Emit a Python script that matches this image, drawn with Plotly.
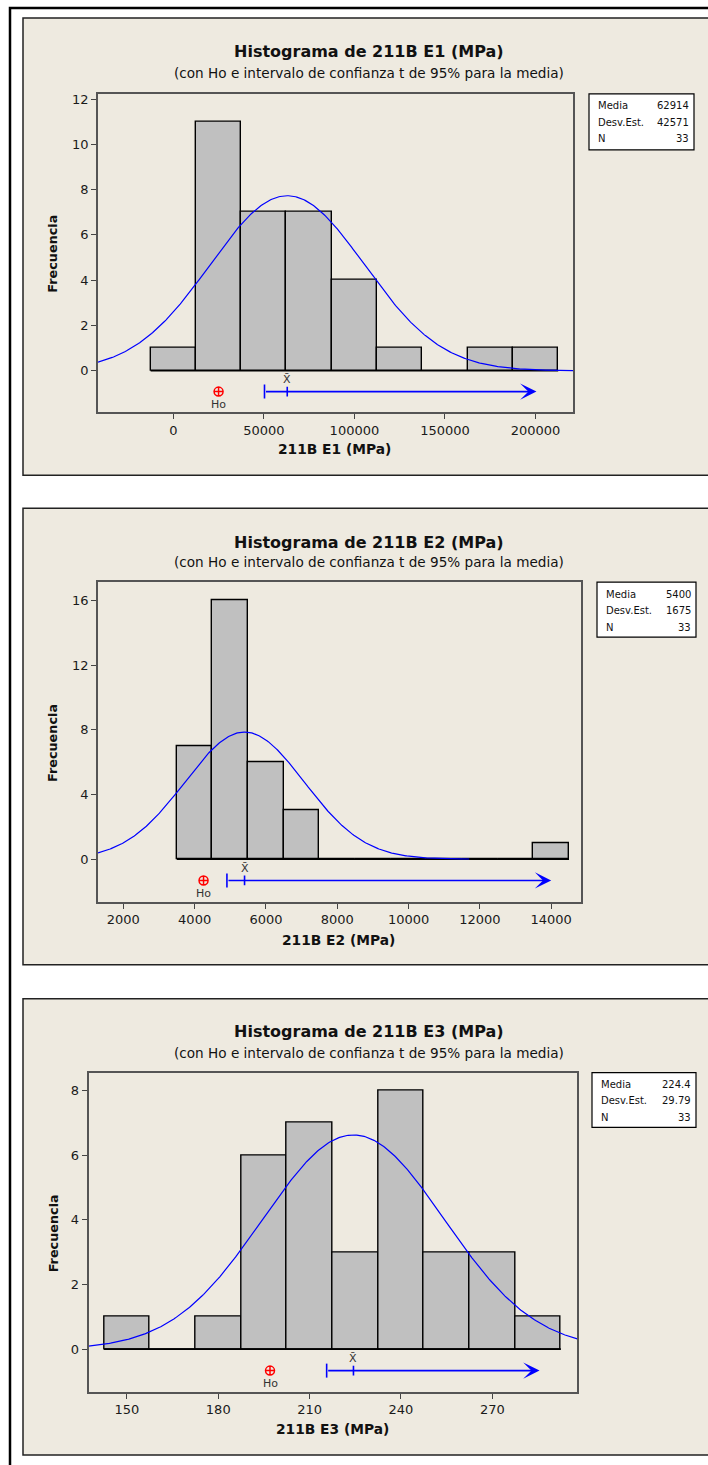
import numpy as np
import plotly.graph_objects as go

W, H = 708, 1465

# ---------------- data ----------------
titles = ["Histograma de 211B E1 (MPa)", "Histograma de 211B E2 (MPa)", "Histograma de 211B E3 (MPa)"]
subtitle = "(con Ho e intervalo de confianza t de 95% para la media)"
xlabels = ["211B E1 (MPa)", "211B E2 (MPa)", "211B E3 (MPa)"]
ylabel = "Frecuencia"

e1_mid = [0, 25000, 50000, 75000, 100000, 125000, 150000, 175000, 200000]
e1_cnt = [1, 11, 7, 7, 4, 1, 0, 1, 1]
e2_mid = [4000, 5000, 6000, 7000, 8000, 9000, 10000, 11000, 12000, 13000, 14000]
e2_cnt = [7, 16, 6, 3, 0, 0, 0, 0, 0, 0, 1]
e3_mid = [150, 165, 180, 195, 210, 225, 240, 255, 270, 285]
e3_cnt = [1, 0, 1, 6, 7, 3, 8, 3, 3, 1]

bin_width = [25000, 1000, 15]
means = [62914, 5400, 224.4]
sds = [42571, 1675, 29.79]
n_obs = [33, 33, 33]
mean_text = ["62914", "5400", "224.4"]
sd_text = ["42571", "1675", "29.79"]
n_text = ["33", "33", "33"]
ho_values = [25000, 4250, 197]
ci_lower = [50360, 4906, 215.6]
ci_arrow_end = [200500, 14000, 285.5]

x_tick_vals = [[0, 50000, 100000, 150000, 200000],
               [2000, 4000, 6000, 8000, 10000, 12000, 14000],
               [150, 180, 210, 240, 270]]
x_tick_text = [["0", "50000", "100000", "150000", "200000"],
               ["2000", "4000", "6000", "8000", "10000", "12000", "14000"],
               ["150", "180", "210", "240", "270"]]
y_tick_vals = [[0, 2, 4, 6, 8, 10, 12], [0, 4, 8, 12, 16], [0, 2, 4, 6, 8]]

mids = [e1_mid, e2_mid, e3_mid]
cnts = [e1_cnt, e2_cnt, e3_cnt]

# ---------------- layout geometry (pixels) ----------------
x_ranges = [[-41560, 220670], [1290, 14836], [137.4, 297.9]]
y_ranges = [[-1.84, 12.23], [-2.64, 17.13], [-1.33, 8.56]]
curve_ranges = [[-41560, 220670], [1290, 11700], [137.4, 297.9]]
plot_boxes = [(98, 92, 573, 411), (98, 581, 581, 901), (88.5, 1072, 577.3, 1392)]
panel_boxes = [(23, 16, 760, 474), (23, 507, 760, 964), (23, 998, 760, 1455)]
legend_boxes = [(589, 92, 694, 148), (597, 581, 696, 636), (592, 1072, 696, 1127)]
title_y = [50, 541, 1031]
subtitle_y = [71, 561, 1052]
title_x = [369, 369, 369]
xtitle_pos = [(334, 448), (338, 939), (332, 1429)]
ytitle_pos = [(53, 252), (53, 742), (53, 1233)]

BEIGE = "#EEEAE0"
BAR_FILL = "#C0C0C0"
BLUE = "#0000FF"
FONT = "DejaVu Sans"

def px(x):
    return x / W

def py(y):
    return 1 - y / H

fig = go.Figure()
shapes = []
annotations = []

# outer frame
shapes.append(dict(type="rect", xref="paper", yref="paper",
                   x0=px(10), x1=px(760), y0=py(1490), y1=py(6),
                   line=dict(color="#000000", width=2.5), fillcolor="rgba(0,0,0,0)", layer="below"))

for i in range(3):
    xa = "x" if i == 0 else f"x{i+1}"
    ya = "y" if i == 0 else f"y{i+1}"
    xlay = "xaxis" if i == 0 else f"xaxis{i+1}"
    ylay = "yaxis" if i == 0 else f"yaxis{i+1}"

    # panel background
    pb = panel_boxes[i]
    shapes.append(dict(type="rect", xref="paper", yref="paper",
                       x0=px(pb[0]), x1=px(pb[2]), y0=py(pb[3]), y1=py(pb[1]),
                       line=dict(color="#222222", width=1.5), fillcolor=BEIGE, layer="below"))

    # histogram bars
    fig.add_trace(go.Bar(x=mids[i], y=cnts[i], width=bin_width[i],
                         marker=dict(color=BAR_FILL, line=dict(color="#000000", width=1.4)),
                         xaxis=xa, yaxis=ya, showlegend=False, hoverinfo="x+y"))
    # baseline for empty bins
    lo = mids[i][0] - bin_width[i] / 2
    hi = mids[i][-1] + bin_width[i] / 2
    fig.add_trace(go.Scatter(x=[lo, hi], y=[0, 0], mode="lines",
                             line=dict(color="#000000", width=1.6),
                             xaxis=xa, yaxis=ya, showlegend=False, hoverinfo="skip"))

    # fitted normal curve
    cx = np.linspace(curve_ranges[i][0], curve_ranges[i][1], 400)
    cy = n_obs[i] * bin_width[i] / (sds[i] * np.sqrt(2 * np.pi)) * np.exp(-0.5 * ((cx - means[i]) / sds[i]) ** 2)
    fig.add_trace(go.Scatter(x=cx, y=cy, mode="lines", line=dict(color=BLUE, width=1.2),
                             xaxis=xa, yaxis=ya, showlegend=False, hoverinfo="skip"))

    # Ho / CI band
    yband = y_ranges[i][0] / 2
    fig.add_trace(go.Scatter(x=[ci_lower[i]], y=[yband], mode="markers",
                             marker=dict(symbol="line-ns", size=10, line=dict(color=BLUE, width=1.6)),
                             xaxis=xa, yaxis=ya, showlegend=False, hoverinfo="skip"))
    fig.add_trace(go.Scatter(x=[means[i]], y=[yband], mode="markers",
                             marker=dict(symbol="line-ns", size=7, line=dict(color=BLUE, width=1.6)),
                             xaxis=xa, yaxis=ya, showlegend=False, hoverinfo="skip"))
    fig.add_trace(go.Scatter(x=[ho_values[i]], y=[yband], mode="markers",
                             marker=dict(symbol="circle-cross-open", size=9, color="#FF0000",
                                         line=dict(color="#FF0000", width=1.5)),
                             xaxis=xa, yaxis=ya, showlegend=False, hoverinfo="skip"))
    annotations.append(dict(x=ci_arrow_end[i], y=yband, ax=ci_lower[i], ay=yband,
                            xref=xa, yref=ya, axref=xa, ayref=ya, text="",
                            showarrow=True, arrowhead=3, arrowsize=1.7, arrowwidth=1.6,
                            arrowcolor=BLUE))
    annotations.append(dict(x=ho_values[i], y=yband, xref=xa, yref=ya, text="Ho",
                            showarrow=False, yshift=-13,
                            font=dict(family=FONT, size=11, color="#333333")))
    annotations.append(dict(x=means[i], y=yband, xref=xa, yref=ya, text="X\u0304",
                            showarrow=False, yshift=12,
                            font=dict(family=FONT, size=11, color="#333333")))

    # axes
    bx = plot_boxes[i]
    fig.update_layout(**{
        xlay: dict(domain=[px(bx[0]), px(bx[2])], range=x_ranges[i], anchor=ya,
                   tickmode="array", tickvals=x_tick_vals[i], ticktext=x_tick_text[i],
                   ticks="outside", ticklen=5, tickwidth=1, tickcolor="#444444",
                   showline=True, mirror=True, linecolor="#555555", linewidth=1.5,
                   showgrid=False, zeroline=False,
                   tickfont=dict(family=FONT, size=13, color="#1a1a1a")),
        ylay: dict(domain=[py(bx[3]), py(bx[1])], range=y_ranges[i], anchor=xa,
                   tickmode="array", tickvals=y_tick_vals[i],
                   ticks="outside", ticklen=5, tickwidth=1, tickcolor="#444444",
                   showline=True, mirror=True, linecolor="#555555", linewidth=1.5,
                   showgrid=False, zeroline=False,
                   tickfont=dict(family=FONT, size=13, color="#1a1a1a")),
    })

    # titles
    annotations.append(dict(x=px(title_x[i]), y=py(title_y[i]), xref="paper", yref="paper",
                            text="<b>" + titles[i] + "</b>", showarrow=False,
                            xanchor="center", yanchor="middle",
                            font=dict(family=FONT, size=16, color="#111111")))
    annotations.append(dict(x=px(title_x[i]), y=py(subtitle_y[i]), xref="paper", yref="paper",
                            text=subtitle, showarrow=False, xanchor="center", yanchor="middle",
                            font=dict(family=FONT, size=13.6, color="#111111")))
    annotations.append(dict(x=px(xtitle_pos[i][0]), y=py(xtitle_pos[i][1]), xref="paper", yref="paper",
                            text="<b>" + xlabels[i] + "</b>", showarrow=False,
                            xanchor="center", yanchor="middle",
                            font=dict(family=FONT, size=13.8, color="#111111")))
    annotations.append(dict(x=px(ytitle_pos[i][0]), y=py(ytitle_pos[i][1]), xref="paper", yref="paper",
                            text="<b>" + ylabel + "</b>", showarrow=False, textangle=-90,
                            xanchor="center", yanchor="middle",
                            font=dict(family=FONT, size=12.8, color="#111111")))

    # stats box
    lb = legend_boxes[i]
    shapes.append(dict(type="rect", xref="paper", yref="paper",
                       x0=px(lb[0]), x1=px(lb[2]), y0=py(lb[3]), y1=py(lb[1]),
                       line=dict(color="#000000", width=1.2), fillcolor="#FFFFFF", layer="above"))
    rows = [("Media", mean_text[i]), ("Desv.Est.", sd_text[i]), ("N", n_text[i])]
    for r, (lab, val) in enumerate(rows):
        yy = lb[1] + 12 + r * 16.5
        annotations.append(dict(x=px(lb[0] + 7), y=py(yy), xref="paper", yref="paper",
                                text=lab, showarrow=False, xanchor="left", yanchor="middle",
                                font=dict(family=FONT, size=10, color="#111111")))
        annotations.append(dict(x=px(lb[2] - 3), y=py(yy), xref="paper", yref="paper",
                                text=val, showarrow=False, xanchor="right", yanchor="middle",
                                font=dict(family=FONT, size=10, color="#111111")))

fig.update_layout(width=W, height=H, margin=dict(l=0, r=0, t=0, b=0),
                  paper_bgcolor="#FFFFFF", plot_bgcolor="#FFFFFF",
                  shapes=shapes, annotations=annotations, showlegend=False,
                  bargap=0, barmode="overlay")

fig.write_html("out.html")
